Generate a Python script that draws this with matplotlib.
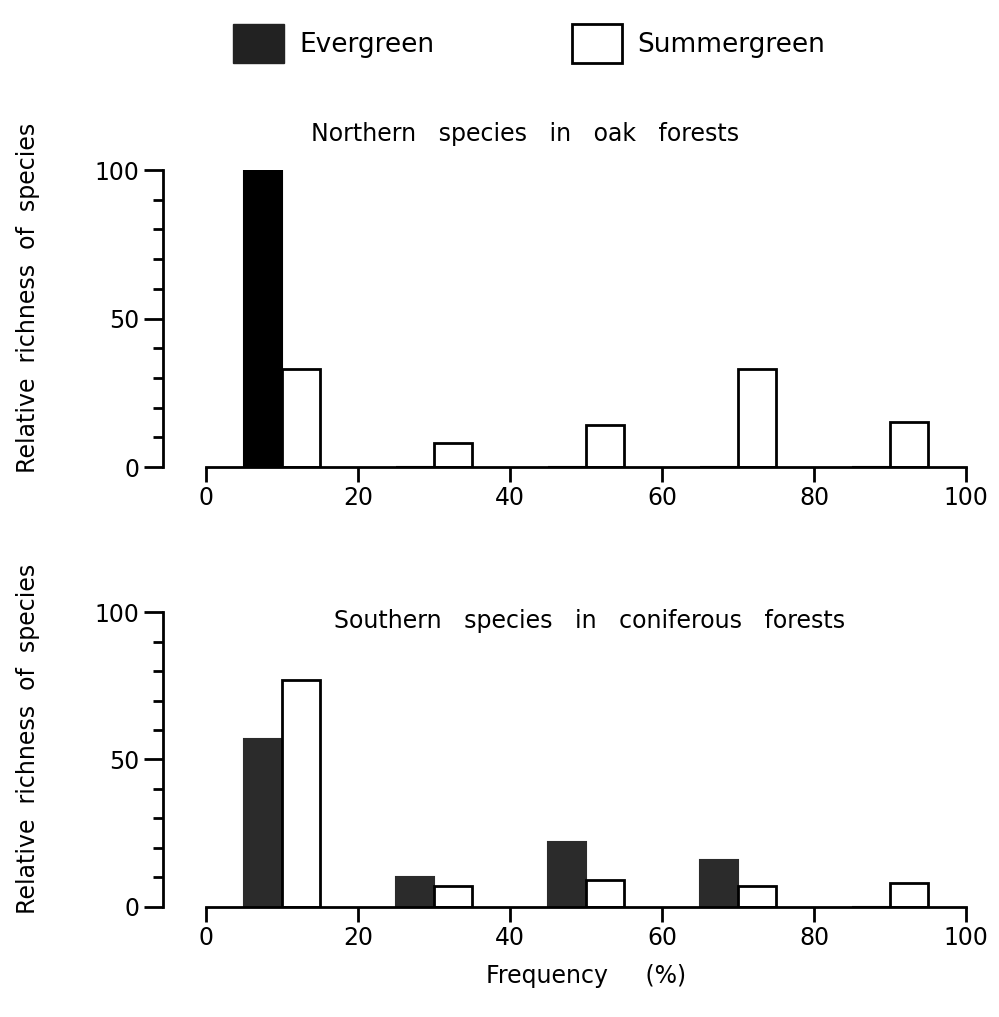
import matplotlib
matplotlib.use('Agg')
import matplotlib.pyplot as plt
from matplotlib.patches import Patch
from matplotlib.ticker import MultipleLocator

# frequency classes (left edge of evergreen bar, summergreen sits next to it)
class_left = [5, 25, 45, 65, 85]
bar_w = 5

north_evergreen = [100, 0, 0, 0, 0]
north_summergreen = [33, 8, 14, 33, 15]
south_evergreen = [57, 10, 22, 16, 0]
south_summergreen = [77, 7, 9, 7, 8]

plt.rcParams['font.family'] = ['DejaVu Sans']
plt.rcParams['font.size'] = 17

fig = plt.figure(figsize=(9.99, 10.17), dpi=100)
ax1 = fig.add_axes([0.206, 0.5408, 0.761, 0.292])
ax2 = fig.add_axes([0.206, 0.1082, 0.761, 0.290])


def draw_panel(ax, ever, summer, ever_color):
    x_sum = [x + bar_w for x in class_left]
    ax.bar(class_left, ever, width=bar_w, align='edge', color=ever_color,
           edgecolor=ever_color, linewidth=1.5)
    ax.bar(x_sum, summer, width=bar_w, align='edge', color='white',
           edgecolor='black', linewidth=2)
    ax.set_xlim(0, 100)
    ax.set_ylim(0, 100)
    ax.spines['top'].set_visible(False)
    ax.spines['right'].set_visible(False)
    ax.spines['left'].set_position(('outward', 31))
    ax.spines['left'].set_linewidth(2)
    ax.spines['bottom'].set_linewidth(2)
    ax.set_xticks([0, 20, 40, 60, 80, 100])
    ax.set_yticks([0, 50, 100])
    ax.yaxis.set_minor_locator(MultipleLocator(10))
    ax.tick_params(axis='x', length=11, width=2, pad=3, labelsize=17)
    ax.tick_params(axis='y', which='major', length=14, width=2, pad=3, labelsize=17)
    ax.tick_params(axis='y', which='minor', length=7, width=2)
    ax.set_ylabel('Relative  richness  of  species', fontsize=17)
    ax.yaxis.set_label_coords(-0.218, 0.57)


draw_panel(ax1, north_evergreen, north_summergreen, 'black')
draw_panel(ax2, south_evergreen, south_summergreen, '#2b2b2b')

ax1.set_title('Northern   species   in   oak   forests', fontsize=17, x=0.42, pad=21)
ax2.set_title('Southern   species   in   coniferous   forests', fontsize=17,
              x=0.505, y=0.945, pad=0)
ax2.set_xlabel('Frequency     (%)', fontsize=17, labelpad=10)

handles = [Patch(facecolor='#222222', edgecolor='#222222', label='Evergreen'),
           Patch(facecolor='white', edgecolor='black', linewidth=2, label='Summergreen')]
fig.legend(handles=handles, loc='upper center', bbox_to_anchor=(0.53, 1.0), ncol=2,
           frameon=False, fontsize=19, handlelength=1.9, handleheight=1.9,
           columnspacing=5.2, handletextpad=0.6)

fig.savefig('out.png', dpi=100)
